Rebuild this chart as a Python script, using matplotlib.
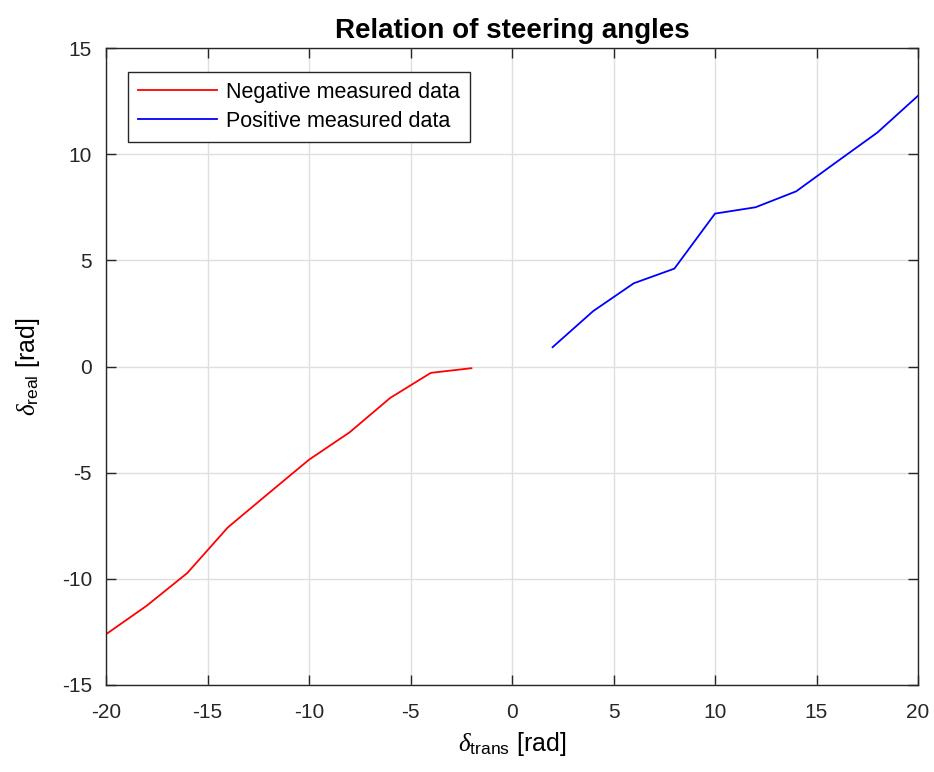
import numpy as np
import matplotlib.pyplot as plt

plt.rcParams['font.family'] = ['Liberation Sans', 'DejaVu Sans']
plt.rcParams['axes.unicode_minus'] = False
plt.rcParams['mathtext.fontset'] = 'custom'
plt.rcParams['mathtext.rm'] = 'Liberation Sans'
plt.rcParams['mathtext.it'] = 'Liberation Serif:italic'

# Measured steering angles
neg_trans = [-20, -18, -16, -14, -12, -10, -8, -6, -4, -2]
neg_real = [-12.61, -11.27, -9.73, -7.58, -5.98, -4.39, -3.10, -1.48, -0.30, -0.08]
pos_trans = [2, 4, 6, 8, 10, 12, 14, 16, 18, 20]
pos_real = [0.91, 2.61, 3.92, 4.61, 7.20, 7.50, 8.25, 9.64, 11.02, 12.75]

fig = plt.figure(figsize=(9.34, 7.72), dpi=100)
ax = fig.add_axes((106 / 934, 1 - 685 / 772, 812 / 934, 637 / 772))

ax.plot(neg_trans, neg_real, color='red', lw=1.3, label='Negative measured data')
ax.plot(pos_trans, pos_real, color='blue', lw=1.3, label='Positive measured data')

ax.set_xlim(-20, 20)
ax.set_ylim(-15, 15)
ax.set_xticks(np.arange(-20, 21, 5))
ax.set_yticks(np.arange(-15, 16, 5))

# MATLAB-like axes look
axcol = '#262626'
ax.grid(True, color='#dfdfdf', lw=1)
ax.set_axisbelow(True)
for s in ax.spines.values():
    s.set_color(axcol)
    s.set_linewidth(1)
ax.tick_params(direction='in', top=True, right=True, length=7, width=1,
               color=axcol, labelcolor=axcol, labelsize=15)
ax.tick_params(axis='x', pad=13)
ax.tick_params(axis='y', pad=10)

ax.set_title('Relation of steering angles', fontsize=20, fontweight='bold', pad=7)
ax.set_xlabel(r'$\delta_{\mathrm{trans}}$ [rad]', fontsize=18, labelpad=6)
ax.set_ylabel(r'$\delta_{\mathrm{real}}$ [rad]', fontsize=18, labelpad=14)

leg = ax.legend(loc='upper left', bbox_to_anchor=(22 / 812, 1 - 24 / 637),
                fontsize=15.5, frameon=True, fancybox=False, handlelength=3.7,
                borderpad=0.45, labelspacing=0.38, handletextpad=0.4,
                borderaxespad=0)
leg.get_frame().set_edgecolor(axcol)
leg.get_frame().set_linewidth(1)
leg.get_frame().set_alpha(1)

fig.savefig('out.png', dpi=100)
